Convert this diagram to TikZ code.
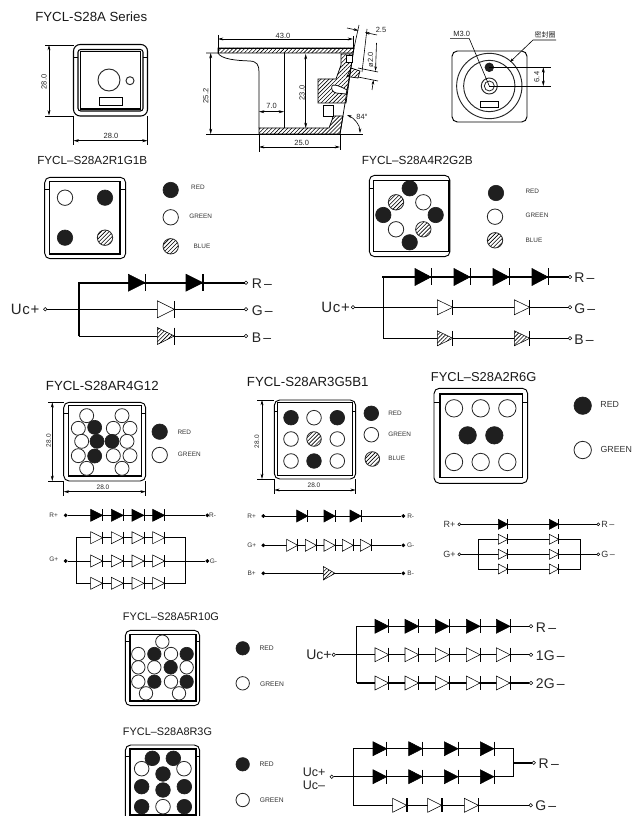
\documentclass[tikz,border=0pt]{standalone}
\usepackage{fontspec}
\setmainfont{Liberation Sans}
\newfontfamily\cjkf{Noto Sans CJK SC}
\usetikzlibrary{patterns.meta,arrows.meta}
\newcommand\fpx[1]{\fontsize{\fpeval{#1*0.75}pt}{\fpeval{#1*0.9}pt}\selectfont}
\newcount\nodecnt
\tikzset{
 hatchp/.style={pattern={Lines[angle=45,distance=2.1pt,line width=.45pt]},pattern color=black},
 ledb/.style={circle,fill=black!88,draw=black!88,inner sep=0pt,line width=.5pt},
 ledw/.style={circle,fill=white,draw=black!85,inner sep=0pt,line width=.6pt},
 ledh/.style={circle,hatchp,draw=black!85,inner sep=0pt,line width=.6pt},
 dr/.style={fill=black,draw=black,line width=.4pt},
 dg/.style={fill=white,draw=black,line width=.4pt},
 dh/.style={preaction={fill=white},hatchp,draw=black,line width=.4pt},
 wire/.style={line width=.6pt,draw=black},
 wirek/.style={line width=1.3pt,draw=black},
 term/.style={circle,draw=black,fill=white,inner sep=0pt,minimum size=2.6pt,line width=.4pt},
 dot/.style={circle,draw=black,fill=black,inner sep=0pt,minimum size=2.4pt},
 part/.style={line width=.55pt,draw=black},
 dimm/.style={line width=.45pt,draw=black,{Stealth[length=4pt,width=2.2pt]}-{Stealth[length=4pt,width=2.2pt]}},
 ext/.style={line width=.45pt,draw=black},
 dimt/.style={font=\fpx{7.5},text=black!85,inner sep=0pt},
 ttl/.style={anchor=west,inner sep=0pt,text=black!90},
 lab/.style={inner sep=0pt,text=black!80},
 clab/.style={anchor=west,inner sep=0pt,font=\fpx{14},text=black!85},
 uclab/.style={anchor=west,inner sep=0pt,font=\fpx{15}\addfontfeature{LetterSpace=5},text=black!85},
 slab/.style={inner sep=0pt,font=\fpx{6.5},text=black!80},
}
% type, x, y, r
\newcommand\led[4]{\global\advance\nodecnt by 1 \node[#1,minimum size=\fpeval{#4*1.5}pt] (n\the\nodecnt) at (#2,#3) {};}
\newcommand\leds[3]{\foreach \xa/\ya in {#3}{\led{#1}{\xa}{\ya}{#2}}}
% outer x0,y0,x1,y1 inner x0,y0,x1,y1 tab
\newcommand\pkg[9]{
 \draw[line width=.7pt,rounded corners=4pt] (#1,#2) rectangle (#3,#4);
 \draw[line width=.85pt] (#5,#6) rectangle (#7,#8);
 \draw[line width=.7pt] (#1,#9) -- (#5,#9) (#3,#9) -- (#7,#9);
}
% [bar width] style, y, half height, width, x list
\newcommand\diodes[6][.6pt]{\foreach \xa in {#6}{
 \draw[#2] (\xa,{#3-#4}) -- ({\xa+#5},#3) -- (\xa,{#3+#4}) -- cycle;
 \draw[line width=#1] ({\xa+#5},{#3-#4}) -- ({\xa+#5},{#3+#4});
}}
\begin{document}
\begin{tikzpicture}[x=0.75pt,y=-0.75pt]
\path[use as bounding box,clip] (0,0) rectangle (631,816);
\fill[white] (0,0) rectangle (631,816);

% ---- titles
\node[ttl,font=\fpx{13.25}] (t0) at (35,17) {FYCL-S28A Series};
\node[ttl,font=\fpx{11.7}] (t1) at (37,160) {FYCL–S28A2R1G1B};
\node[ttl,font=\fpx{11.8}] (t2) at (361.7,160) {FYCL–S28A4R2G2B};
\node[ttl,font=\fpx{13.25}] (t3) at (45.7,385.7) {FYCL-S28AR4G12};
\node[ttl,font=\fpx{13.25}] (t4) at (246.7,381.7) {FYCL-S28AR3G5B1};
\node[ttl,font=\fpx{12.9}] (t5) at (430.7,376.7) {FYCL–S28A2R6G};
\node[ttl,font=\fpx{11}] (t6) at (122.7,617) {FYCL–S28A5R10G};
\node[ttl,font=\fpx{10.9}] (t7) at (122.7,732) {FYCL–S28A8R3G};

% ---- front view
\draw[line width=.8pt,rounded corners=5pt] (73.5,44.5) rectangle (147.5,116);
\draw[line width=.8pt,rounded corners=2pt] (78,49.5) rectangle (143,111);
\draw[line width=.8pt] (80.7,51.7) rectangle (140.7,109);
\draw[line width=.6pt] (73.5,57) -- (78,57) (143,57) -- (147.5,57);
\node[ledw,minimum size=16.5pt,line width=.7pt] (fv1) at (109,80) {};
\node[ledw,minimum size=6pt,line width=.7pt] (fv2) at (130,80.7) {};
\draw[part] (99,97) rectangle (122,105);
\coordinate (a1) at (49,45); \coordinate (a2) at (49,115.5);
\draw[dimm] (a1) -- (a2);
\draw[ext] (45,45) -- (73.5,45) (45,116) -- (73.5,116);
\node[dimt,rotate=90] (d1) at (44,82) {28.0};
\draw[dimm] (73.5,140.7) -- (147.5,140.7);
\draw[ext] (73.5,116) -- (73.5,145) (147.5,116) -- (147.5,145);
\node[dimt] (d2) at (111,135.7) {28.0};

% ---- side view
\draw[part,hatchp] (218,48) -- (354,48) -- (353,53) -- (218,53) -- cycle;
\draw[part] (218,48) -- (354,48);
\draw[part] (206,53) -- (218,53) .. controls (221,59) and (235,60.5) .. (250,61) .. controls (257,61.5) and (259,65) .. (259,72) -- (259,128);
\draw[part,hatchp] (259,128) -- (329,128) -- (332,120) -- (333,116) -- (343,116) -- (340,134) -- (259,134) -- cycle;
\draw[part] (206,134) -- (363,134);
\draw[part] (284,53) -- (284,128);
\draw[part] (354,48) -- (340,134);
\draw[part,hatchp] (341,54) -- (353,54) -- (346,103) -- (318,103) -- (318,79) -- (336,79) -- (341,65) -- cycle;
\draw[part,fill=white] (332,86) .. controls (333,84) and (338,85) .. (347,90) -- (346,94) -- (336,93) .. controls (332,92) and (331,88) .. (332,86) -- cycle;
\draw[part,fill=white] (346.5,55) rectangle (352,62);
\draw[part,hatchp] (351,68) -- (360,71) -- (358,78) -- (347,76.5) -- cycle;
\draw[part,fill=white] (323,105) rectangle (333,116);
\draw[dimm] (218,39) -- (353,39);
\draw[ext] (218,35) -- (218,53) (353,36) -- (353,48);
\node[dimt] (d3) at (283,36) {43.0};
\draw[dimm] (210.7,53) -- (210.7,134);
\node[dimt,rotate=90] (d4) at (205.7,96) {25.2};
\draw[dimm] (305.7,54) -- (305.7,128);
\node[dimt,rotate=90] (d5) at (302,93) {23.0};
\draw[dimm] (259,111.7) -- (284,111.7);
\node[dimt] (d6) at (271.7,106) {7.0};
\draw[dimm] (259,147) -- (340,147);
\draw[ext] (259,134) -- (259,152) (340,134) -- (340,150);
\node[dimt] (d7) at (301.7,143) {25.0};
\draw[ext] (354,48) -- (359,25) (362,72) -- (367,29);
\draw[ext,-{Stealth[length=3.5pt,width=2pt]}] (347,28) -- (358.5,30.5);
\draw[ext,-{Stealth[length=3.5pt,width=2pt]}] (377,35) -- (365,32.5);
\node[dimt] (d8) at (381,30) {2.5};
\draw[ext] (358,68) -- (378,72) (358,77) -- (378,81);
\draw[ext,-{Stealth[length=3.5pt,width=2pt]}] (376.5,43) -- (375.5,71);
\draw[ext,-{Stealth[length=3.5pt,width=2pt]}] (372,90) -- (373.5,80);
\node[dimt,rotate=90] (d9) at (370.5,60) {ø2.0};
\draw[ext,{Stealth[length=3.5pt,width=2pt]}-{Stealth[length=3.5pt,width=2pt]}] (347,115) .. controls (354,118) and (360,125) .. (360,133);
\node[dimt] (d10) at (362,116.7) {84°};

% ---- back view
\draw[line width=.7pt,rounded corners=4pt] (452,51) rectangle (527,122);
\node[ledw,minimum size=49pt,line width=.7pt] (bv1) at (489.3,86) {};
\node[ledw,minimum size=38.5pt,line width=.7pt] (bv2) at (489.3,86) {};
\node[ledw,minimum size=12pt,line width=.7pt] (bv3) at (489.3,86) {};
\node[ledw,minimum size=7.5pt,line width=.6pt] (bv4) at (489.3,86) {};
\node[ledb,minimum size=6.5pt] (bv5) at (489.3,67.3) {};
\draw[part] (480,101) rectangle (498.7,107.7);
\node[dimt] (d11) at (461.7,34) {M3.0};
\node[dimt,font=\fpx{7}\cjkf] (d12) at (545,35.3) {密封圈};
\draw[ext] (450,38.7) -- (469.3,38.7) -- (489.3,86);
\draw[ext,-{Stealth[length=3pt,width=2pt]}] (556,40) -- (533,40) -- (510,62);
\draw[ext] (489.3,67.3) -- (550.7,67.3) (489.3,86) -- (550.7,86);
\draw[dimm] (543.3,67.3) -- (543.3,86);
\node[dimt,rotate=90] (d13) at (536.7,77) {6.4};

% ---- S28A2R1G1B
\pkg{44.7}{177.3}{125.7}{258.7}{49.7}{181.7}{120}{254}{189.3}
\leds{ledw}{7.7}{65/197.7}
\leds{ledb}{7.7}{105/197.7,65/237.7}
\leds{ledh}{7.7}{105/237.7}
\leds{ledb}{7.7}{170.7/190}
\leds{ledw}{7.7}{170.7/217.3}
\leds{ledh}{7.7}{170.7/246.3}
\node[lab,font=\fpx{6.4}] (l1) at (198,187) {RED};
\node[lab,font=\fpx{6.4}] (l2) at (200.7,216.7) {GREEN};
\node[lab,font=\fpx{6.4}] (l3) at (202,246) {BLUE};
\node[uclab] (c1) at (10.5,309.3) {Uc+};
\node[term] (a0) at (45.3,309.3) {};
\node[term] (aR) at (246,282.7) {};
\node[term] (aG) at (246,309.3) {};
\node[term] (aB) at (246,336) {};
\coordinate (aT) at (78.7,282.7); \coordinate (aM) at (78.7,309.3); \coordinate (aL) at (78.7,336);
\draw[wirek,line cap=rect] (aT) -- (aR);
\draw[wirek] (aT) -- (aL);
\draw[wire] (a0) -- (aG);
\draw[wire] (aL) -- (aB);
\diodes[1pt]{dr}{282.7}{8.5}{17}{128.3,186}
\diodes{dg}{309.3}{8.5}{17}{157.3}
\diodes{dh}{336}{8.5}{17}{157.3}
\node[clab] (c2) at (251.5,283.5) {R\,–};
\node[clab] (c3) at (251.5,310.5) {G\,–};
\node[clab] (c4) at (251.5,338) {B\,–};

% ---- S28A4R2G2B
\pkg{369.3}{175.3}{450}{256.7}{373.3}{180.7}{449}{251.7}{188}
\leds{ledb}{7.7}{409.7/188.3,383.3/215,435.7/215,409.7/242.3}
\leds{ledw}{7.7}{423.3/202.3,396/229.3}
\leds{ledh}{7.7}{396/202.3,423.3/229.3}
\leds{ledb}{7.7}{496/193}
\leds{ledw}{7.7}{495/216.7}
\leds{ledh}{7.7}{495/240.3}
\node[lab,font=\fpx{6.4}] (l4) at (532.3,191) {RED};
\node[lab,font=\fpx{6.4}] (l5) at (537,215.7) {GREEN};
\node[lab,font=\fpx{6.4}] (l6) at (534,240.3) {BLUE};
\node[uclab] (c5) at (321,307.3) {Uc+};
\node[term] (b0) at (353,307.3) {};
\node[term] (bR) at (570,277) {};
\node[term] (bG) at (570,307.3) {};
\node[term] (bB) at (570,338.3) {};
\coordinate (bT) at (383.3,277); \coordinate (bL) at (383.3,338.3);
\draw[wirek,line cap=rect] (bT) -- (bR);
\draw[wire] (bT) -- (bL);
\draw[wire] (b0) -- (bG);
\draw[wire] (bL) -- (bB);
\diodes{dr}{277}{8.5}{16}{415,454,493,532}
\diodes[1pt]{dg}{307.3}{7.5}{15.5}{437.3,514.3}
\diodes[1pt]{dh}{338.3}{7.5}{15.5}{437.3,514.3}
\node[clab] (c6) at (574,278) {R\,–};
\node[clab] (c7) at (574,309) {G\,–};
\node[clab] (c8) at (574,340) {B\,–};

% ---- S28AR4G12
\pkg{63.7}{402.3}{145.7}{481}{68.3}{405.7}{141.7}{476}{413}
\foreach \xa/\ya in {260/137,366/137,235/175,340/175,390/175,245/214,381/214,235/257,340/257,390/257,260/295,366/295}{
 \led{ledw}{\xa/3}{370+\ya/3}{7}}
\foreach \xa/\ya in {284/172,291/214,336/214,284/258}{
 \led{ledb}{\xa/3}{370+\ya/3}{7}}
\leds{ledb}{7.7}{159.7/431.7}
\leds{ledw}{7.7}{159.7/455}
\node[lab,font=\fpx{6.4}] (l7) at (184.3,432.3) {RED};
\node[lab,font=\fpx{6.4}] (l8) at (189.3,454.7) {GREEN};
\draw[dimm] (52.3,402.3) -- (52.3,481);
\draw[ext] (48,402.3) -- (63.7,402.3) (48,481) -- (63.7,481);
\node[dimt,font=\fpx{6.5},rotate=90] (d14) at (48.7,440.7) {28.0};
\draw[dimm] (63.7,491.7) -- (145.7,491.7);
\draw[ext] (63.7,481) -- (63.7,496) (145.7,481) -- (145.7,496);
\node[dimt,font=\fpx{6.5}] (d15) at (103,487) {28.0};
\node[slab] (s1) at (53.7,515) {R+};
\node[dot] (cR0) at (65.7,515.3) {};
\node[dot] (cR1) at (207.3,515.3) {};
\draw[wire] (cR0) -- (cR1);
\node[slab] (s2) at (212.5,515.5) {R-};
\diodes{dr}{515.3}{6}{12}{90.7,111.3,132,152.7}
\node[slab] (s3) at (53.7,559) {G+};
\node[dot] (cG0) at (65.7,561) {};
\node[dot] (cG1) at (207.3,561) {};
\draw[wire] (cG0) -- (cG1);
\node[slab] (s4) at (213.5,561.5) {G-};
\coordinate (cL1) at (76.3,537.7); \coordinate (cL2) at (76.3,583.3);
\coordinate (cR2) at (185,537.7); \coordinate (cR3) at (185,583.3);
\draw[wire] (cL1) -- (cR2) -- (cR3) -- (cL2) -- cycle;
\diodes{dg}{537.7}{6}{12}{90.7,111.3,132,152.7}
\diodes{dg}{561}{6}{12}{90.7,111.3,132,152.7}
\diodes{dg}{583.3}{6}{12}{90.7,111.3,132,152.7}

% ---- S28AR3G5B1
\pkg{274.3}{400}{355.7}{479}{277.3}{402.7}{352.3}{475.7}{411.7}
\leds{ledb}{7.3}{291/417.7,337.3/417.7,314/461}
\leds{ledw}{7.3}{314/417.7,291/439,337.3/439,291/461,337.3/461}
\leds{ledh}{7.3}{314/439}
\leds{ledb}{7.3}{371.3/413.3}
\leds{ledw}{7.3}{371.3/434.7}
\leds{ledh}{7.3}{372.3/459}
\node[lab,font=\fpx{6.4}] (l9) at (395,413.3) {RED};
\node[lab,font=\fpx{6.4}] (l10) at (399.7,434.3) {GREEN};
\node[lab,font=\fpx{6.4}] (l11) at (396.7,458.7) {BLUE};
\draw[dimm] (262,400) -- (262,479);
\draw[ext] (257,400) -- (274.3,400) (257,479) -- (274.3,479);
\node[dimt,font=\fpx{6.5},rotate=90] (d16) at (257,441.7) {28.0};
\draw[dimm] (274.3,490) -- (355.7,490);
\draw[ext] (274.3,479) -- (274.3,494) (355.7,479) -- (355.7,494);
\node[dimt,font=\fpx{6.5}] (d17) at (314,485.7) {28.0};
\node[slab] (s5) at (251.7,516) {R+};
\node[dot] (dR0) at (263.3,516) {};
\node[dot] (dR1) at (403.3,516) {};
\draw[wire] (dR0) -- (dR1);
\node[slab] (s6) at (410.7,516) {R-};
\diodes{dr}{516}{6}{11}{296.7,324,350}
\node[slab] (s7) at (251.7,545.3) {G+};
\node[dot] (dG0) at (263.3,545.3) {};
\node[dot] (dG1) at (403.3,545.3) {};
\draw[wire] (dG0) -- (dG1);
\node[slab] (s8) at (410.7,545.3) {G-};
\diodes{dg}{545.3}{6}{11}{286.7,305.3,324,342.3,360.3}
\node[slab] (s9) at (251.7,573.3) {B+};
\node[dot] (dB0) at (263.3,573.3) {};
\node[dot] (dB1) at (403.3,573.3) {};
\draw[wire] (dB0) -- (dB1);
\node[slab] (s10) at (410.7,573.3) {B-};
\draw[dh] (323.3,566.5) -- (335,573.3) -- (323.3,580) -- cycle;

% ---- S28A2R6G
\pkg{434}{388.3}{527.7}{483.3}{440}{394}{522.3}{477.7}{402.3}
\foreach \xa/\ya in {102/130,182/130,262/130,102/291,182/291,262/291}{
 \led{ledw}{420+\xa/3}{365+\ya/3}{8.7}}
\foreach \xa/\ya in {143/211,223/211}{
 \led{ledb}{420+\xa/3}{365+\ya/3}{8.7}}
\leds{ledb}{8.7}{582.7/405.7}
\leds{ledw}{8.7}{582.7/450}
\node[lab,font=\fpx{8.8}] (l12) at (609.7,404.3) {RED};
\node[lab,font=\fpx{8.8},anchor=west] (l13) at (600.3,449.3) {GREEN};
\node[slab,font=\fpx{9}] (s11) at (449.5,524.3) {R+};
\node[term,minimum size=2.2pt] (eR0) at (459.3,524.3) {};
\node[term,minimum size=2.2pt] (eR1) at (598.3,524.3) {};
\draw[wire] (eR0) -- (eR1);
\node[slab,font=\fpx{9},anchor=west] (s12) at (601,524.8) {R\,–};
\diodes{dr}{524.3}{5}{9.4}{498.3,549.3}
\node[slab,font=\fpx{9}] (s13) at (449.5,554.3) {G+};
\node[term,minimum size=2.2pt] (eG0) at (459.3,554.3) {};
\node[term,minimum size=2.2pt] (eG1) at (598.3,554.3) {};
\draw[wire] (eG0) -- (eG1);
\node[slab,font=\fpx{9},anchor=west] (s14) at (601,554.8) {G\,–};
\coordinate (eA) at (478.3,539.3); \coordinate (eB) at (580.3,539.3);
\coordinate (eC) at (580.3,569); \coordinate (eD) at (478.3,569);
\draw[wire] (eA) -- (eB) -- (eC) -- (eD) -- cycle;
\diodes{dg}{539.3}{5}{9.4}{498.3,549.3}
\diodes{dg}{554.3}{5}{9.4}{498.3,549.3}
\diodes{dg}{569}{5}{9.4}{498.3,549.3}

% ---- S28A5R10G
\pkg{125.3}{630.3}{199.7}{705.7}{130}{634.3}{196}{701}{641.7}
\foreach \xa/\ya in {157/110,85/147,183/147,85/187,133/187,230/187,85/230,183/230,108/265,207/265}{
 \led{ledw}{110+\xa/3}{605+\ya/3}{6.7}}
\foreach \xa/\ya in {133/147,230/147,182/187,133/230,230/230}{
 \led{ledb}{110+\xa/3}{605+\ya/3}{6.7}}
\leds{ledb}{6.7}{242.7/648.3}
\leds{ledw}{6.7}{242.7/683.3}
\node[lab,font=\fpx{6.7}] (l14) at (266.7,648) {RED};
\node[lab,font=\fpx{6.7}] (l15) at (272,683.7) {GREEN};
\node[clab] (c9) at (306,654.7) {Uc+};
\node[term] (f0) at (333.7,654.7) {};
\node[term] (fR) at (531,626.3) {};
\node[term] (fG) at (531,654.7) {};
\node[term] (fH) at (531,683) {};
\coordinate (fT) at (356.7,626.3); \coordinate (fL) at (356.7,683);
\draw[wire] (fT) -- (fL);
\draw[wire] (fT) -- (fR);
\draw[wire] (f0) -- (fG);
\draw[wirek] (fL) -- (fH);
\diodes{dr}{626.3}{7}{13.7}{375,405,435.3,466.3,496.3}
\diodes{dg}{654.7}{7}{13.7}{375,405,435.3,466.3,496.3}
\diodes{dg}{683}{7}{13.7}{375,405,435.3,466.3,496.3}
\node[clab] (c10) at (535.7,627.5) {R\,–};
\node[clab] (c11) at (535.7,655.5) {1G\,–};
\node[clab] (c12) at (535.7,684) {2G\,–};

% ---- S28A8R3G
\pkg{125.3}{745}{199.7}{821}{130}{749}{196}{815}{756.7}
\foreach \xa/\ya in {127/460,190/460,159/507,95/545,159/555,223/545,95/605,223/605}{
 \led{ledb}{110+\xa/3}{605+\ya/3}{7.3}}
\foreach \xa/\ya in {95/491,222/491,159/605}{
 \led{ledw}{110+\xa/3}{605+\ya/3}{7.3}}
\leds{ledb}{6.7}{242.7/764.3}
\leds{ledw}{6.7}{242.7/800}
\node[lab,font=\fpx{6.7}] (l16) at (266.7,764.3) {RED};
\node[lab,font=\fpx{6.7}] (l17) at (271.7,800) {GREEN};
\node[clab,font=\fpx{12.5}] (c13) at (302.7,772) {Uc+};
\node[clab,font=\fpx{12.5}] (c14) at (302.7,785.5) {Uc–};
\node[term] (g0) at (331.7,776.7) {};
\node[term] (gR) at (533.7,762.7) {};
\node[term] (gG) at (530.7,805.3) {};
\coordinate (gA) at (353.3,748.7); \coordinate (gB) at (353.3,776.7); \coordinate (gC) at (353.3,805.3);
\coordinate (gD) at (513.7,748.7); \coordinate (gE) at (513.7,776.7); \coordinate (gF) at (513.7,762.7);
\draw[wire] (gA) -- (gC);
\draw[wire] (gA) -- (gD) -- (gE);
\draw[wire] (g0) -- (gE);
\draw[wire] (gC) -- (gG);
\draw[wirek] (gF) -- (gR);
\diodes{dr}{748.7}{7}{13.7}{373,408.7,444.3,480.3}
\diodes{dr}{776.7}{7}{13.7}{373,408.7,444.3,480.3}
\diodes[1.2pt]{dg}{805.3}{7}{14}{392.7,427.7,464.3}
\node[clab] (c15) at (538.3,763.5) {R\,–};
\node[clab] (c16) at (535,806) {G\,–};
\end{tikzpicture}
\end{document}
